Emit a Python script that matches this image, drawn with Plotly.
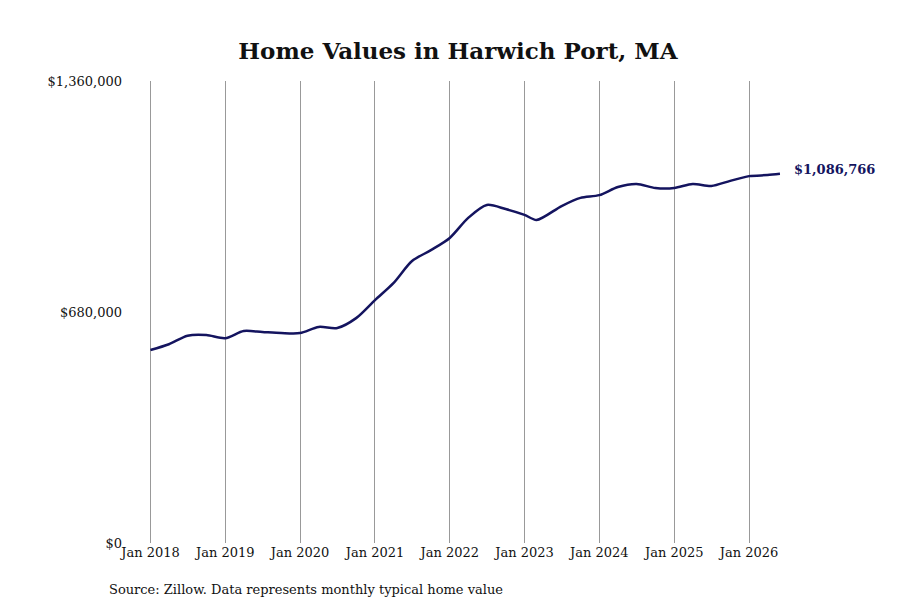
import plotly.graph_objects as go

dates = ["2018-01-01", "2018-04-01", "2018-07-01", "2018-10-01", "2019-01-01", "2019-04-01",
         "2019-07-01", "2019-10-01", "2020-01-01", "2020-04-01", "2020-07-01", "2020-10-01",
         "2021-01-01", "2021-04-01", "2021-07-01", "2021-10-01", "2022-01-01", "2022-04-01",
         "2022-07-01", "2022-10-01", "2023-01-01", "2023-03-01", "2023-07-01", "2023-10-01",
         "2024-01-01", "2024-04-01", "2024-07-01", "2024-10-01", "2025-01-01", "2025-04-01",
         "2025-07-01", "2025-10-01", "2026-01-01", "2026-04-01", "2026-06-01"]
values = [568000, 585000, 610000, 612000, 603000, 624000,
          621000, 618000, 618000, 636000, 633000, 662000,
          715000, 765000, 830000, 862000, 898000, 957000,
          995000, 983000, 966000, 951000, 992000, 1016000,
          1024000, 1048000, 1057000, 1045000, 1045000, 1057000,
          1051000, 1066000, 1080000, 1083000, 1086766]
tick_dates = ["%d-01-01" % y for y in range(2018, 2027)]
tick_labels = ["Jan %d" % y for y in range(2018, 2027)]

font = "DejaVu Serif"
fig = go.Figure(go.Scatter(x=dates, y=values, mode="lines",
                           line=dict(color="#14145f", width=2.5, shape="spline", smoothing=0.8),
                           hoverinfo="skip"))

fig.add_annotation(x=dates[-1], y=values[-1], text="<b>$%s</b>" % format(values[-1], ","),
                   showarrow=False, xanchor="left", xshift=12, yshift=4,
                   font=dict(family=font, size=13, color="#14145f"))
fig.add_annotation(x=99, y=581, xref="paper", yref="paper", xanchor="left", yanchor="middle",
                   text="Source: Zillow. Data represents monthly typical home value",
                   showarrow=False, font=dict(family=font, size=13, color="#111"))
# place the source line in pixel terms relative to the plot area
fig.layout.annotations[-1].x = (99 - 115) / (900 - 115 - 110)
fig.layout.annotations[-1].y = -(581 - 535) / (535 - 73)

fig.update_layout(
    width=900, height=600, plot_bgcolor="white", paper_bgcolor="white",
    showlegend=False,
    title=dict(text="<b>Home Values in Harwich Port, MA</b>", x=0.5, y=1 - 43 / 600,
               xanchor="center", yanchor="middle", font=dict(family=font, size=23, color="#111")),
    margin=dict(l=115, r=110, t=73, b=65, autoexpand=False),
    xaxis=dict(range=["2017-08-20", "2026-08-28"], tickvals=tick_dates, ticktext=tick_labels,
               showgrid=True, gridcolor="#999", gridwidth=1, zeroline=False, showline=False,
               automargin=False, ticklen=4, tickcolor="white",
               tickfont=dict(family=font, size=13, color="#111")),
    yaxis=dict(range=[0, 1360000], tickvals=[0, 680000, 1360000],
               ticktext=["$0", "$680,000", "$1,360,000"], showgrid=False, zeroline=False,
               automargin=False, tickfont=dict(family=font, size=13, color="#111")),
)
fig.write_html("out.html")
